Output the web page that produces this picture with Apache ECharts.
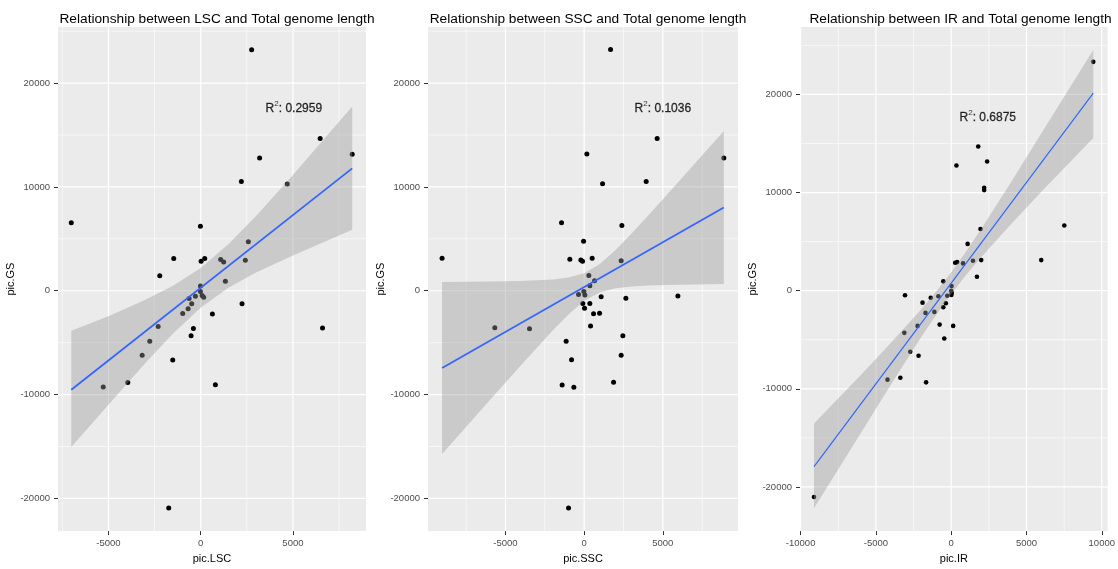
<!DOCTYPE html>
<html>
<head>
<meta charset="utf-8">
<script src="https://cdn.jsdelivr.net/npm/echarts@6/dist/echarts.min.js"></script>
<style>
html, body { margin: 0; padding: 0; background: #fff; }
#chart { width: 1118px; height: 569px; }
</style>
</head>
<body>
<div id="chart"></div>
<script>
// ---- values ----
// LSC panel
var lscX = [2761, 6477, 8214, 3194, 2204, 4694, -7017, -16, 2583, -1462, 217, 22, 1083, 1245, 2420, -2220, 1337, -16, -16, 76,
  162, -287, -628, -487, -682, -975, 633, 2241, -2306, -395, -520, 6605, -2761, -3173, -1516, -3952, -5284, 796, -1733];
var lscY = [23208, 14654, 13155, 12773, 10511, 10291, 6539, 6215, 4725, 3103, 3103, 2845, 3007, 2778, 2940, 1442, 907, 458, -86, -468,
  -621, -525, -754, -1260, -1737, -2186, -2243, -1260, -3456, -3647, -4344, -3580, -4859, -6224, -6673, -8831, -9279, -9060, -20926];
var lscFitX = [-7017, 8214];
var lscFitY = [-9540, 11780];
var lscBandX = [-7017, -5000, -3000, -1500, 0, 1500, 3000, 5000, 8214];
var lscBandLo = [-15050, -10973, -6956, -4116, -1630, 294, 1764, 3402, 5880];
var lscBandHi = [-3850, -2457, -876, 482, 2194, 4468, 7196, 11156, 17750];

// SSC panel
var sscX = [1678, 172, 4641, 8875, 1170, 3942, -1437, 2397, -38, -9027, -909, -210, -102, 509, 2352, 299, 661, 362, -19, -356,
  45, 1081, 2651, 5957, -83, 362, 25, 598, 979, 407, -5677, -3471, 2460, -1144, 2352, -801, 1869, -1398, -655, -992];
var sscY = [23227, 13175, 14673, 12792, 10310, 10530, 6558, 6272, 4773, 3122, 3026, 2959, 2835, 3122, 2893, 1461, 955, 477, -67, -353,
  -410, -573, -735, -506, -1241, -1241, -1690, -2224, -2167, -3408, -3561, -3656, -4324, -4869, -6205, -6654, -8811, -9069, -9289, -20936];
var sscFitX = [-9027, 8875];
var sscFitY = [-7446, 8023];
var sscBandX = [-9027, -6000, -4000, -2000, -1000, 0, 1000, 2000, 3000, 4000, 6000, 8875];
var sscBandLo = [-15720, -10540, -7147, -3839, -2292, -973, -137, 237, 405, 493, 583, 650];
var sscBandHi = [830, 878, 943, 1091, 1272, 1681, 2573, 3927, 5487, 7127, 10495, 15380];

// IR panel
var irX = [9435, 1794, 348, 2385, 2188, 2188, 7510, 1945, 1091, 5979, 1991, 263, 394, 788, 1445, 1708, -526, 20, 0, 33,
  13, -3068, -1360, -854, -263, -1905, -355, -526, -1708, -1117, -2234, -769, 131, -3114, -460, -2720, -2168, -3377, -4231, -1669, -9113];
var irY = [23320, 14690, 12761, 13168, 10497, 10254, 6640, 6294, 4772, 3117, 3117, 2843, 2914, 2782, 3046, 1421, 954, 477, 0, -234,
  -437, -467, -711, -569, -508, -1218, -1279, -1685, -2264, -2162, -3584, -3452, -3584, -4294, -4873, -6223, -6629, -8863, -9066, -9340, -21015];
var irFitX = [-9113, 9435];
var irFitY = [-17929, 20142];
var irBandX = [-9113, -6000, -4000, -2000, -1000, 0, 1000, 2000, 4000, 6000, 9435];
var irBandLo = [-22162, -14491, -9561, -4752, -2463, -323, 1633, 3441, 6836, 10116, 15574];
var irBandHi = [-13533, -8587, -5305, -1904, -89, 1877, 4027, 6323, 11138, 16070, 24538];

// axis limits and ticks
var lscXLim = [-7737, 8962];
var sscXLim = [-9922, 9776];
var irXLim = [-10042, 10390];
var gsYLim = [-23150, 25400];
var irYLim = [-24497, 26873];
var xMajor = [-5000, 0, 5000];
var irXMajor = [-10000, -5000, 0, 5000, 10000];
var xMinor = [-7500, -2500, 2500, 7500];
var yMajor = [-20000, -10000, 0, 10000, 20000];
var yMinor = [-15000, -5000, 5000, 15000, 25000];

// R^2 labels
var r2Text = ['0.2959', '0.1036', '0.6875'];
var r2X = [5050, 5000, 2430];
var r2Y = [17650, 17650, 17770];

var titles = ['Relationship between LSC and Total genome length',
  'Relationship between SSC and Total genome length',
  'Relationship between IR and Total genome length'];
var xNames = ['pic.LSC', 'pic.SSC', 'pic.IR'];

var chart = echarts.init(document.getElementById('chart'));

var boxes = [
  {left: 58, top: 27, width: 308, height: 507},
  {left: 428, top: 27, width: 310, height: 507},
  {left: 800, top: 27, width: 311, height: 506}
];
var panels = [
  {x: lscX, y: lscY, fitX: lscFitX, fitY: lscFitY, bx: lscBandX, lo: lscBandLo, hi: lscBandHi, xLim: lscXLim, yLim: gsYLim, xMaj: xMajor, lw: 1.8, ps: 5},
  {x: sscX, y: sscY, fitX: sscFitX, fitY: sscFitY, bx: sscBandX, lo: sscBandLo, hi: sscBandHi, xLim: sscXLim, yLim: gsYLim, xMaj: xMajor, lw: 1.8, ps: 5},
  {x: irX, y: irY, fitX: irFitX, fitY: irFitY, bx: irBandX, lo: irBandLo, hi: irBandHi, xLim: irXLim, yLim: irYLim, xMaj: irXMajor, lw: 1.2, ps: 4.6}
];

var font = 'Liberation Sans, Arial, sans-serif';
var plain = function (v) { return String(v); };
var option = {
  animation: false,
  textStyle: {fontFamily: font},
  title: [], grid: [], xAxis: [], yAxis: [], series: []
};

panels.forEach(function (p, i) {
  var b = boxes[i];
  option.title.push({
    text: titles[i], left: b.left + b.width / 2, top: 7, textAlign: 'center',
    textStyle: {fontSize: 13.7, fontWeight: 'normal', color: '#000', fontFamily: font}
  });
  option.grid.push({
    left: b.left, top: b.top, width: b.width, height: b.height,
    show: true, backgroundColor: '#EBEBEB', borderWidth: 0
  });
  option.xAxis.push({
    type: 'value', gridIndex: i, min: p.xLim[0], max: p.xLim[1],
    name: xNames[i], nameLocation: 'middle', nameGap: 18,
    nameTextStyle: {fontSize: 11, color: '#000', fontFamily: font},
    axisLine: {show: false, onZero: false},
    axisTick: {show: true, length: 4, customValues: p.xMaj, lineStyle: {color: '#333', width: 1}},
    axisLabel: {customValues: p.xMaj, formatter: plain, margin: 7, fontSize: 9.5, color: '#4D4D4D', fontFamily: font},
    splitLine: {show: false}
  });
  option.yAxis.push({
    type: 'value', gridIndex: i, min: p.yLim[0], max: p.yLim[1],
    name: 'pic.GS', nameLocation: 'middle', nameGap: 26,
    nameTextStyle: {fontSize: 11, color: '#000', fontFamily: font},
    axisLine: {show: false, onZero: false},
    axisTick: {show: true, length: 4, customValues: yMajor, lineStyle: {color: '#333', width: 1}},
    axisLabel: {customValues: yMajor, formatter: plain, margin: 8, fontSize: 9.5, color: '#4D4D4D', fontFamily: font},
    splitLine: {show: false}
  });

  // white panel grid lines, ggplot style
  var lines = [];
  p.xMaj.forEach(function (v) { lines.push({v: v, dir: 'x', major: true}); });
  xMinor.forEach(function (v) { if (v > p.xLim[0] && v < p.xLim[1]) lines.push({v: v, dir: 'x', major: false}); });
  yMajor.forEach(function (v) { lines.push({v: v, dir: 'y', major: true}); });
  yMinor.forEach(function (v) { if (v > p.yLim[0] && v < p.yLim[1]) lines.push({v: v, dir: 'y', major: false}); });
  option.series.push({
    type: 'custom', xAxisIndex: i, yAxisIndex: i, silent: true, z: 1,
    data: lines.map(function (l) { return l.dir === 'x' ? [l.v, p.yLim[0]] : [p.xLim[0], l.v]; }),
    renderItem: function (params, api) {
      var l = lines[params.dataIndex];
      var a, c;
      if (l.dir === 'x') { a = api.coord([l.v, p.yLim[0]]); c = api.coord([l.v, p.yLim[1]]); }
      else { a = api.coord([p.xLim[0], l.v]); c = api.coord([p.xLim[1], l.v]); }
      return {type: 'line', shape: {x1: a[0], y1: a[1], x2: c[0], y2: c[1]},
        style: {stroke: '#fff', lineWidth: l.major ? 1.2 : 0.6}};
    }
  });

  // points
  option.series.push({
    type: 'scatter', xAxisIndex: i, yAxisIndex: i, silent: true, z: 2,
    symbolSize: p.ps, itemStyle: {color: '#000', opacity: 1},
    data: p.x.map(function (v, k) { return [v, p.y[k]]; })
  });

  // confidence band
  option.series.push({
    type: 'custom', xAxisIndex: i, yAxisIndex: i, silent: true, z: 3,
    data: [[p.bx[0], p.lo[0]]],
    renderItem: function (params, api) {
      var pts = [];
      for (var k = 0; k < p.bx.length; k++) pts.push(api.coord([p.bx[k], p.hi[k]]));
      for (var k2 = p.bx.length - 1; k2 >= 0; k2--) pts.push(api.coord([p.bx[k2], p.lo[k2]]));
      return {type: 'polygon', shape: {points: pts}, style: {fill: 'rgba(153,153,153,0.4)'}};
    }
  });

  // fitted line
  option.series.push({
    type: 'line', xAxisIndex: i, yAxisIndex: i, silent: true, z: 4,
    symbol: 'none', lineStyle: {color: '#3366FF', width: p.lw},
    data: p.fitX.map(function (v, k) { return [v, p.fitY[k]]; })
  });

  // R^2 text
  option.series.push({
    type: 'scatter', xAxisIndex: i, yAxisIndex: i, silent: true, z: 5,
    symbolSize: 1, itemStyle: {color: 'rgba(0,0,0,0)'},
    data: [[r2X[i], r2Y[i]]],
    label: {
      show: true, position: 'inside',
      formatter: '{m|R}{s|2}{m|: ' + r2Text[i] + '}',
      rich: {
        m: {fontSize: 12, color: '#000', lineHeight: 15, verticalAlign: 'bottom', fontFamily: font, textBorderColor: '#000', textBorderWidth: 0.3},
        s: {fontSize: 8, color: '#000', lineHeight: 15, verticalAlign: 'top', padding: [0, 0, 6, 0], fontFamily: font}
      }
    }
  });
});

chart.setOption(option);
</script>
</body>
</html>
